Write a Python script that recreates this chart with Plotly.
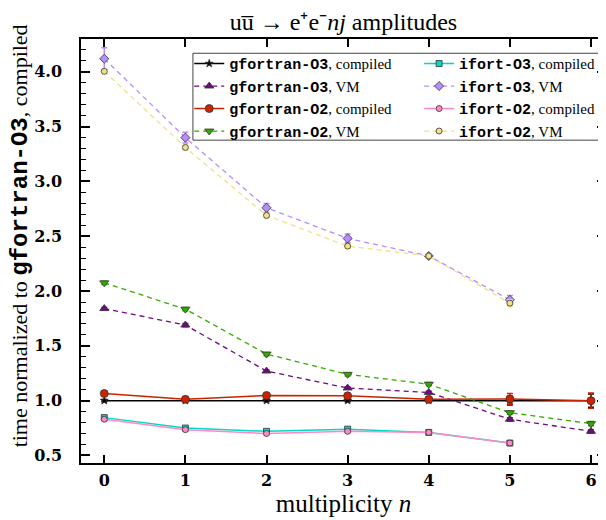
import plotly.graph_objects as go

n_gf = [0, 1, 2, 3, 4, 5, 6]
n_if = [0, 1, 2, 3, 4, 5]

gf_o3_c = [1.00, 1.00, 1.00, 1.00, 1.00, 1.00, 1.00]
gf_o3_c_err = [0.01, 0.01, 0.01, 0.01, 0.01, 0.04, 0.06]
gf_o3_vm = [1.84, 1.69, 1.27, 1.115, 1.075, 0.83, 0.72]
gf_o3_vm_err = [0.01, 0.015, 0.01, 0.01, 0.01, 0.015, 0.015]
gf_o2_c = [1.065, 1.012, 1.047, 1.044, 1.012, 1.015, 1.0]
gf_o2_c_err = [0.01, 0.01, 0.01, 0.01, 0.01, 0.05, 0.07]
gf_o2_vm = [2.075, 1.835, 1.425, 1.24, 1.15, 0.89, 0.79]
gf_o2_vm_err = [0.015, 0.015, 0.015, 0.015, 0.015, 0.015, 0.02]

if_o3_c = [0.845, 0.75, 0.72, 0.74, 0.71, 0.613]
if_o3_c_err = [0.015, 0.01, 0.01, 0.015, 0.01, 0.01]
if_o3_vm = [4.12, 3.40, 2.76, 2.48, 2.32, 1.92]
if_o3_vm_err = [0.10, 0.05, 0.04, 0.04, 0.02, 0.04]
if_o2_c = [0.83, 0.735, 0.70, 0.72, 0.71, 0.613]
if_o2_c_err = [0.01, 0.01, 0.01, 0.01, 0.01, 0.01]
if_o2_vm = [4.005, 3.31, 2.69, 2.41, 2.32, 1.89]
if_o2_vm_err = [0.01, 0.02, 0.02, 0.02, 0.02, 0.03]

MONO = "Liberation Mono"
SERIF = "Liberation Serif"


def lab(code, kind):
    return f"<span style='font-family:{MONO}'><b>{code}</b></span>, {kind}"


series = [
    # name, x, y, err, color, dash, symbol, msize, legend
    (lab("gfortran-O3", "compiled"), n_gf, gf_o3_c, gf_o3_c_err, "#000000", "solid", "star", 6, "legend"),
    (lab("gfortran-O3", "VM"), n_gf, gf_o3_vm, gf_o3_vm_err, "#6e0a82", "dash", "triangle-up", 8, "legend"),
    (lab("gfortran-O2", "compiled"), n_gf, gf_o2_c, gf_o2_c_err, "#cc2200", "solid", "circle", 8, "legend"),
    (lab("gfortran-O2", "VM"), n_gf, gf_o2_vm, gf_o2_vm_err, "#33aa00", "dash", "triangle-down", 8, "legend"),
    (lab("ifort-O3", "compiled"), n_if, if_o3_c, if_o3_c_err, "#00d8c8", "solid", "square", 6, "legend2"),
    (lab("ifort-O3", "VM"), n_if, if_o3_vm, if_o3_vm_err, "#b68cff", "dash", "diamond", 7, "legend2"),
    (lab("ifort-O2", "compiled"), n_if, if_o2_c, if_o2_c_err, "#ff88c8", "solid", "circle", 6, "legend2"),
    (lab("ifort-O2", "VM"), n_if, if_o2_vm, if_o2_vm_err, "#f2e08a", "dash", "circle", 6, "legend2"),
]

fig = go.Figure()
for name, xs, ys, es, col, dash, sym, ms, lg in series:
    fig.add_trace(go.Scatter(
        x=xs, y=ys, name=name, mode="lines+markers", legend=lg,
        line=dict(color=col, width=1.5 if dash == "solid" else 1.3,
                  dash="solid" if dash == "solid" else "5px,4px"),
        marker=dict(symbol=sym, size=ms, color=col, line=dict(color="#333333", width=0.8)),
        error_y=dict(type="data", array=es, visible=True, color=col, thickness=1.5, width=3),
    ))

# page has an 8px body margin: figure origin sits at (8, 8) of the window
OFF = 8
W, H = 606 - OFF, 520 - OFF
L, R, T, B = 80.7 - OFF, 0.0, 38.7 - OFF, H - (463.3 - OFF)
pw, ph = W - L - R, H - T - B


def px(xw):
    return (xw - OFF - L) / pw


def py(yw):
    return (H - B - (yw - OFF)) / ph


LEG_FONT = dict(family=SERIF, size=15)

fig.add_shape(type="rect", xref="paper", yref="paper",
              x0=px(192.7), x1=px(599), y0=py(140), y1=py(53),
              line=dict(color="#444444", width=1), fillcolor="white", layer="below")

fig.add_annotation(
    text="time normalized to <span style='font-family:" + MONO +
         ";font-size:24px'><b>gfortran-O3</b></span>, compiled",
    xref="paper", yref="paper", x=px(20), y=py(236), xanchor="center", yanchor="middle",
    textangle=-90, showarrow=False, font=dict(family=SERIF, size=22, color="black"))

fig.update_layout(
    width=W, height=H,
    margin=dict(l=L, r=R, t=T, b=B, pad=0),
    paper_bgcolor="white", plot_bgcolor="white",
    font=dict(family=SERIF, size=16, color="black"),
    title=dict(text="uu\u0305 \u2192 e\u207ae\u207b<i>nj</i> amplitudes",
               x=0.5, xref="paper", xanchor="center", y=1 - (22 - OFF) / H, yanchor="middle",
               font=dict(family=SERIF, size=24)),
    showlegend=True,
    legend=dict(x=px(189), y=py(47), xanchor="left", yanchor="top", bgcolor="rgba(0,0,0,0)",
                borderwidth=0, font=LEG_FONT, tracegroupgap=0, itemwidth=30),
    legend2=dict(x=px(419), y=py(47), xanchor="left", yanchor="top", bgcolor="rgba(0,0,0,0)",
                 borderwidth=0, font=LEG_FONT, tracegroupgap=0, itemwidth=30),
    xaxis=dict(range=[-0.287, 6.185], tickmode="array", tickvals=n_gf,
               ticktext=[f"<b>{v}</b>" for v in n_gf], automargin=False,
               ticks="inside", ticklen=8, tickwidth=1.5, tickcolor="black",
               showline=True, linecolor="black", linewidth=1.5, mirror="allticks",
               showgrid=False, zeroline=False,
               tickfont=dict(family="DejaVu Serif", size=16),
               ticklabelstandoff=2,
               title=dict(text="multiplicity <i>n</i>", font=dict(family=SERIF, size=25), standoff=0)),
    yaxis=dict(range=[0.431, 4.30], tick0=0.5, dtick=0.5, tickformat=".1f", automargin=False,
               ticks="inside", ticklen=9, tickwidth=1.5, tickcolor="black",
               minor=dict(dtick=0.1, ticks="inside", ticklen=5, tickcolor="black", tickwidth=1),
               showline=True, linecolor="black", linewidth=1.5, mirror="allticks",
               showgrid=False, zeroline=False,
               tickfont=dict(family="DejaVu Serif", size=16, weight="bold"),
               ticklabelstandoff=14),
)

fig.write_html("out.html")
